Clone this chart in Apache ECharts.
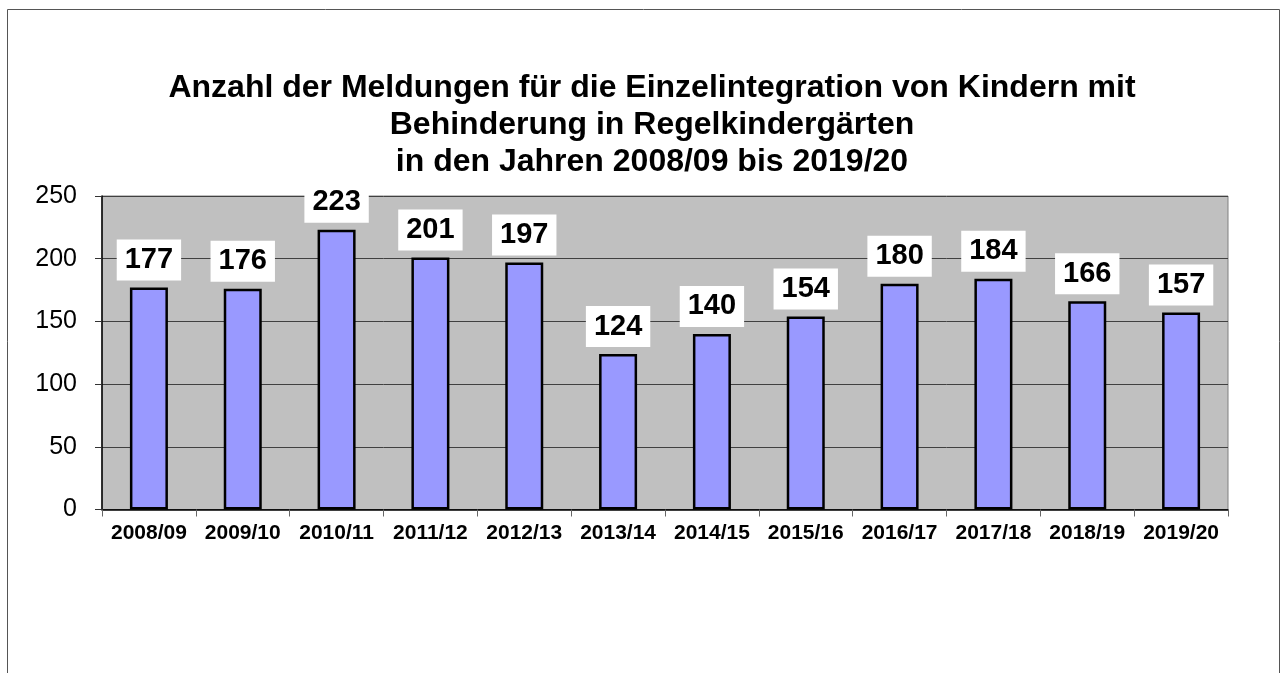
<!DOCTYPE html>
<html>
<head>
<meta charset="utf-8">
<script src="https://cdn.jsdelivr.net/npm/echarts@6/dist/echarts.min.js"></script>
<style>
  html, body { margin: 0; padding: 0; background: #fff; }
  #chart { width: 1285px; height: 673px; }
</style>
</head>
<body>
<div id="chart"></div>
<script>
  // Schuljahre und Anzahl der Meldungen
  const years = ['2008/09', '2009/10', '2010/11', '2011/12', '2012/13', '2013/14',
                 '2014/15', '2015/16', '2016/17', '2017/18', '2018/19', '2019/20'];
  const meldungen = [177, 176, 223, 201, 197, 124, 140, 154, 180, 184, 166, 157];
  const yTicks = [0, 50, 100, 150, 200, 250];

  const font = "'Liberation Sans', Arial, sans-serif";

  let myChart = echarts.init(document.getElementById('chart'));
  myChart.setOption({
    animation: false,
    title: {
      text: 'Anzahl der Meldungen für die Einzelintegration von Kindern mit\nBehinderung in Regelkindergärten\nin den Jahren 2008/09 bis 2019/20',
      left: 652,
      textAlign: 'center',
      top: 70,
      padding: 0,
      textStyle: {
        fontFamily: font,
        fontSize: 32,
        fontWeight: 'bold',
        color: '#000',
        lineHeight: 37
      }
    },
    graphic: [{
      type: 'rect',
      shape: { x: 7.5, y: 9.5, width: 1272, height: 700 },
      style: { fill: 'none', stroke: '#555', lineWidth: 1 },
      silent: true
    }],
    grid: {
      left: 102,
      right: 57,
      top: 196,
      bottom: 163.5,
      show: true,
      backgroundColor: '#C0C0C0',
      borderColor: '#808080',
      borderWidth: 1
    },
    xAxis: {
      type: 'category',
      data: years,
      boundaryGap: true,
      axisLine: { lineStyle: { color: '#000', width: 1.5 } },
      axisTick: { show: true, length: 7, lineStyle: { color: '#666' } },
      axisLabel: {
        fontFamily: font,
        fontSize: 21,
        fontWeight: 'bold',
        color: '#000',
        margin: 13,
        interval: 0
      }
    },
    yAxis: {
      type: 'value',
      min: yTicks[0],
      max: yTicks[yTicks.length - 1],
      interval: 50,
      axisLine: { show: true, lineStyle: { color: '#000', width: 1.5 } },
      axisTick: { show: true, length: 7, lineStyle: { color: '#333' } },
      axisLabel: {
        fontFamily: font,
        fontSize: 25,
        color: '#000',
        margin: 25
      },
      splitLine: { show: true, lineStyle: { color: '#404040', width: 1 } }
    },
    series: [{
      name: 'Meldungen',
      type: 'bar',
      data: meldungen,
      barWidth: 38,
      itemStyle: {
        color: '#9999FF',
        borderColor: '#000',
        borderWidth: 2.5
      },
      label: {
        show: true,
        position: 'top',
        distance: 7,
        fontFamily: font,
        fontSize: 29,
        fontWeight: 'bold',
        color: '#000',
        backgroundColor: '#fff',
        padding: [6, 8]
      }
    }]
  });
</script>
</body>
</html>
